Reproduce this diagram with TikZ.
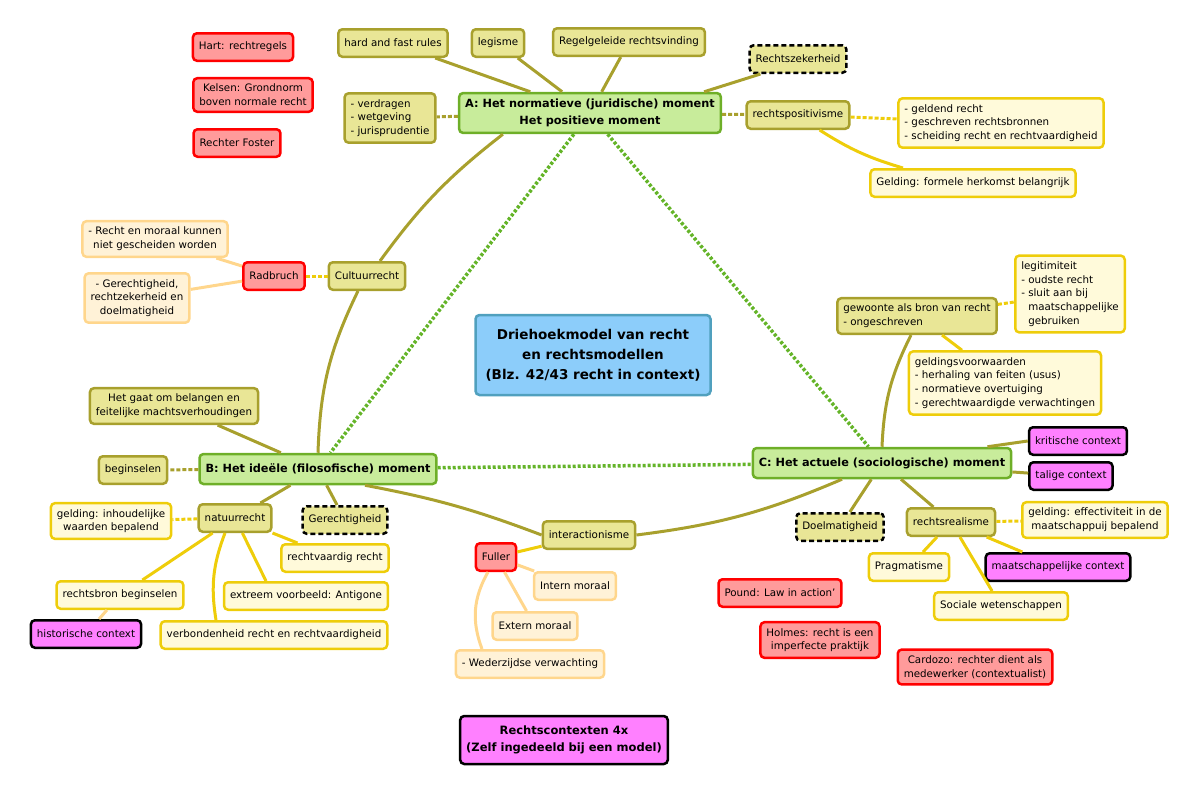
\documentclass[tikz,border=0pt]{standalone}
\usepackage{fontspec}
\setmainfont{DejaVu Sans}
\usepackage{xcolor}
\usepackage{tikz}
\definecolor{mainfill}{RGB}{200,236,155}
\definecolor{maindraw}{RGB}{110,175,40}
\definecolor{olivefill}{RGB}{233,230,150}
\definecolor{olivedraw}{RGB}{168,160,45}
\definecolor{leaffill}{RGB}{255,250,218}
\definecolor{leafdraw}{RGB}{238,205,10}
\definecolor{notefill}{RGB}{255,242,215}
\definecolor{notedraw}{RGB}{255,214,140}
\definecolor{personfill}{RGB}{255,155,155}
\definecolor{contextfill}{RGB}{255,128,255}
\definecolor{titlefill}{RGB}{140,205,250}
\definecolor{titledraw}{RGB}{80,160,190}
\definecolor{greenlink}{RGB}{100,180,40}
\def\smallfont{\fontsize{10.3}{13.7}\selectfont}

\begin{document}
\begin{tikzpicture}[x=1pt,y=1pt]
    \tikzstyle{box}=[draw,rounded corners=4pt,line width=2.5pt,inner xsep=6pt,inner ysep=6pt,minimum height=27.5pt,font=\smallfont,align=center]
    \tikzstyle{main box}=[box,draw=maindraw,fill=mainfill,minimum height=30pt,font=\fontsize{11.3}{17}\selectfont\bfseries]
    \tikzstyle{branch box}=[box,draw=olivedraw,fill=olivefill]
    \tikzstyle{value box}=[branch box,draw=black,dash pattern=on 5pt off 3pt]
    \tikzstyle{leaf box}=[box,draw=leafdraw,fill=leaffill]
    \tikzstyle{note box}=[box,draw=notedraw,fill=notefill]
    \tikzstyle{person box}=[box,draw=red,fill=personfill]
    \tikzstyle{context box}=[box,draw=black,fill=contextfill]
    \tikzstyle{main link}=[draw=greenlink,line width=3.5pt,dash pattern=on 3pt off 2pt]
    \tikzstyle{branch link}=[draw=olivedraw,line width=3pt]
    \tikzstyle{leaf link}=[draw=leafdraw,line width=3pt]
    \tikzstyle{note link}=[draw=notedraw,line width=3pt]
    \tikzstyle{short link}=[dash pattern=on 4pt off 2pt]

    \useasboundingbox (0,0) rectangle (1200,-793);

    % Draw the three moments and the title
    \node[main box] (A) at (590,-113) {A: Het normatieve (juridische) moment\\Het positieve moment};
    \node[main box] (B) at (318,-469) {B: Het ideële (filosofische) moment};
    \node[main box] (C) at (882,-463) {C: Het actuele (sociologische) moment};
    \node[box,draw=titledraw,fill=titlefill,minimum width=235pt,minimum height=80pt,
        font=\fontsize{13.5}{20}\selectfont\bfseries] (title) at (593,-355)
        {Driehoekmodel van recht\\en rechtsmodellen\\(Blz. 42/43 recht in context)};
    \node[context box,font=\fontsize{11.5}{17}\selectfont\bfseries,minimum width=200pt,minimum height=48pt]
        (contexten) at (564,-740) {Rechtscontexten 4x\\(Zelf ingedeeld bij een model)};

    % Draw the persons
    \foreach \name/\x/\y/\txt in {hart/243/47/{Hart: rechtregels},
            kelsen/253/95/{Kelsen: Grondnorm\\boven normale recht},
            foster/237/143/{Rechter Foster},
            pound/780/593/{Pound: Law in action'},
            holmes/820/640/{Holmes: recht is een\\imperfecte praktijk},
            cardozo/975/667/{Cardozo: rechter dient als\\medewerker (contextualist)}}
        \node[person box] (\name) at (\x,-\y) {\txt};
    \node[person box] (radbruch) at (274,-276) {Radbruch};
    \node[person box] (fuller) at (496,-557) {Fuller};

    % Draw the nodes round A
    \node[branch box] (hard) at (393,-43) {hard and fast rules};
    \node[branch box] (legisme) at (498,-43) {legisme};
    \node[branch box] (regel) at (629,-42) {Regelgeleide rechtsvinding};
    \node[value box] (zeker) at (798,-59) {Rechtszekerheid};
    \node[branch box,align=left] (verdragen) at (390,-118) {- verdragen\\- wetgeving\\- jurisprudentie};
    \node[branch box] (positief) at (798,-115) {rechtspositivisme};
    \node[leaf box,align=left] (geldend) at (1001,-123)
        {- geldend recht\\- geschreven rechtsbronnen\\- scheiding recht en rechtvaardigheid};
    \node[leaf box] (formeel) at (973,-183) {Gelding: formele herkomst belangrijk};
    \node[branch box] (cultuur) at (367,-276) {Cultuurrecht};
    \node[note box] (moraal) at (155,-239) {- Recht en moraal kunnen\\niet gescheiden worden};
    \node[note box] (zekerheid) at (137,-298) {- Gerechtigheid,\\rechtzekerheid en\\doelmatigheid};

    % Draw the nodes round B
    \node[branch box] (belang) at (174,-406) {Het gaat om belangen en\\feitelijke machtsverhoudingen};
    \node[branch box] (begin) at (133,-470) {beginselen};
    \node[branch box] (natuur) at (235,-518) {natuurrecht};
    \node[value box] (gerecht) at (345,-520) {Gerechtigheid};
    \node[leaf box] (geldinh) at (111,-521) {gelding: inhoudelijke\\waarden bepalend};
    \node[leaf box] (rechtv) at (335,-558) {rechtvaardig recht};
    \node[leaf box] (rbegin) at (120,-595) {rechtsbron beginselen};
    \node[leaf box] (extreem) at (306,-596) {extreem voorbeeld: Antigone};
    \node[context box] (historisch) at (86,-634) {historische context};
    \node[leaf box] (verbond) at (274,-635) {verbondenheid recht en rechtvaardigheid};

    % Draw the nodes between B and C
    \node[branch box] (inter) at (589,-535) {interactionisme};
    \node[note box] (intern) at (575,-586) {Intern moraal};
    \node[note box] (extern) at (535,-626) {Extern moraal};
    \node[note box] (weder) at (530,-664) {- Wederzijdse verwachting};

    % Draw the nodes round C
    \node[branch box,align=left] (gewoonte) at (917,-316) {gewoonte als bron van recht\\- ongeschreven};
    \node[leaf box,align=left] (legitim) at (1070,-294)
        {legitimiteit\\- oudste recht\\- sluit aan bij\\\phantom{- }maatschappelijke\\\phantom{- }gebruiken};
    \node[leaf box,align=left] (geldvw) at (1005,-383)
        {geldingsvoorwaarden\\- herhaling van feiten (usus)\\- normatieve overtuiging\\- gerechtwaardigde verwachtingen};
    \node[context box] (kritisch) at (1078,-441) {kritische context};
    \node[context box] (talig) at (1071,-476) {talige context};
    \node[value box] (doel) at (840,-527) {Doelmatigheid};
    \node[branch box] (realisme) at (951,-522) {rechtsrealisme};
    \node[leaf box] (geldeff) at (1095,-520) {gelding: effectiviteit in de\\maatschappuij bepalend};
    \node[leaf box] (pragma) at (909,-567) {Pragmatisme};
    \node[context box] (maatsch) at (1058,-567) {maatschappelijke context};
    \node[leaf box] (sociaal) at (1001,-606) {Sociale wetenschappen};

    % Connect the three moments
    \draw[main link] (A) -- (B);
    \draw[main link] (A) -- (C);
    \draw[main link] (B) -- (C);

    % Connect A with its branches
    \foreach \dest in {hard,legisme,regel}
        \path (A) edge[branch link] (\dest);
    \draw[branch link] ([xshift=-18pt]A.north east) -- ([xshift=12pt]zeker.south west);
    \path (A) edge[branch link,short link] (verdragen);
    \path (A) edge[branch link,short link] (positief);
    \path (positief) edge[leaf link,short link] (geldend);
    \draw[leaf link] (positief) to[bend right=8] ([xshift=-70pt]formeel.north);
    \draw[branch link] ([xshift=45pt]A.south west) to[bend right=8] ([xshift=13pt]cultuur.north);
    \draw[branch link] ([xshift=-9pt]cultuur.south) to[bend right=12] (B.north);
    \path (cultuur) edge[leaf link,short link] (radbruch);
    \path (radbruch) edge[note link] (moraal);
    \path (radbruch) edge[note link] (zekerheid);

    % Connect B with its branches
    \foreach \dest in {belang,natuur,gerecht}
        \path (B) edge[branch link] (\dest);
    \path (B) edge[branch link,short link] (begin);
    \draw[branch link] ([xshift=47pt]B.south) to[bend left=5] (inter.west);
    \path (natuur) edge[leaf link,short link] (geldinh);
    \path (natuur) edge[leaf link] (rechtv);
    \draw[leaf link] (natuur) -- ([xshift=-40pt]extreem.north);
    \draw[leaf link] ([xshift=-10pt]natuur.south) to[bend right=15] ([xshift=-58pt]verbond.north);
    \path (natuur) edge[leaf link] (rbegin);
    \path (rbegin) edge[note link] (historisch);

    % Connect interactionisme with Fuller and C
    \draw[branch link] (inter.east) to[bend right=8] ([xshift=-40pt]C.south);
    \path (inter) edge[leaf link] (fuller);
    \path (fuller) edge[note link] (intern);
    \path (fuller) edge[note link] (extern);
    \draw[note link] ([xshift=-8pt]fuller.south) to[bend right=25] ([xshift=-48pt]weder.north);

    % Connect C with its branches
    \draw[branch link] ([xshift=-6pt]gewoonte.south) to[bend right=12] (C.north);
    \path (gewoonte) edge[leaf link,short link] (legitim);
    \path (gewoonte) edge[leaf link] (geldvw);
    \draw[branch link] ([xshift=-25pt]C.north east) -- (kritisch.west);
    \foreach \dest in {talig,doel,realisme}
        \path (C) edge[branch link] (\dest);
    \path (realisme) edge[leaf link,short link] (geldeff);
    \foreach \dest in {pragma,maatsch,sociaal}
        \path (realisme) edge[leaf link] (\dest);

\end{tikzpicture}
\end{document}
